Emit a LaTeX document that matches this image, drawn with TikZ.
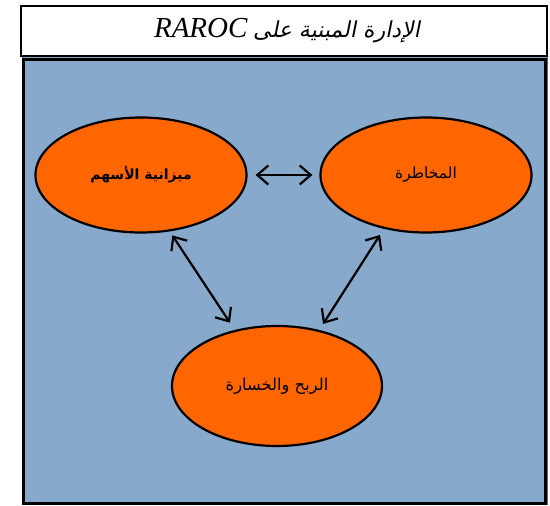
\documentclass[tikz,border=0pt]{standalone}
\usepackage{fontspec}
\usetikzlibrary{shapes.geometric,arrows.meta}
\TeXXeTstate=1
\setmainfont{Liberation Serif}
\newfontfamily\arabicfont[Script=Arabic]{DejaVu Sans}
\newfontfamily\arabicslant[Script=Arabic,FakeSlant=0.2]{DejaVu Sans}
\definecolor{panelblue}{RGB}{135,169,204}
\definecolor{ovalorange}{RGB}{255,102,0}
\definecolor{paneledge}{RGB}{80,100,130}
\tikzset{
  oval/.style={ellipse, draw=black, line width=2.2pt, fill=ovalorange,
    minimum width=211pt, minimum height=115pt, inner sep=0pt, font=\arabicfont\fontsize{15.5}{18}\selectfont},
  link/.style={line width=2.2pt, {Straight Barb[length=11pt,width=19pt]}-{Straight Barb[length=11pt,width=19pt]}},
  titlebox/.style={draw=black, line width=2pt, fill=white}
}
\begin{document}
\begin{tikzpicture}[x=1pt,y=-1pt]
\useasboundingbox (0,0) rectangle (550,506);
% panel
\fill[panelblue] (22,55) rectangle (548,505);
\draw[paneledge, line width=0.8pt] (22.5,55.5) rectangle (547.5,504.5);
\draw[black, line width=2.2pt] (23.5,59.5) rectangle (545.5,503.5);
% title
\node[titlebox, minimum width=526pt, minimum height=50pt, anchor=north west, inner sep=0pt] (title) at (19.5,5) {};
\node (titletext) at (287,31) {\fontsize{22}{26}\selectfont\beginR{\arabicslant الإدارة المبنية على} \beginL\textit{\fontsize{29}{32}\selectfont RAROC}\endL\endR};
% ovals
\node[oval] (L) at (141,175) {\fontsize{14}{16}\selectfont\textbf{\beginR ميزانية الأسهم\endR}};
\node[oval] (R) at (426,175) {\fontsize{15.5}{18}\selectfont\beginR المخاطرة\endR};
\node[oval, minimum height=120pt, minimum width=210pt] (B) at (277,386) {\fontsize{16.3}{18}\selectfont\beginR الربح والخسارة\endR};
% links
\draw[link, shorten <=8pt, shorten >=7pt] (L.east) -- (R.west);
\draw[link, shorten <=4.7pt, shorten >=8.7pt] (L.-63) -- (B.127);
\draw[link, shorten <=7.2pt, shorten >=7.1pt] (R.232) -- (B.53.6);
\end{tikzpicture}
\end{document}
